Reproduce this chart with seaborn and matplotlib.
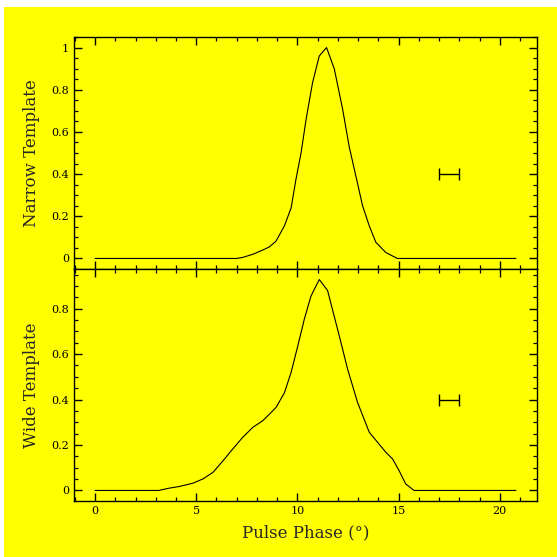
import matplotlib
matplotlib.use("Agg")
import matplotlib.pyplot as plt
from matplotlib.patches import Rectangle
from matplotlib.ticker import MultipleLocator
import seaborn as sns
import pandas as pd

# pulse phase (deg) and template amplitudes
narrow_phase = [0, 7.0, 7.3, 7.8, 8.29, 8.62, 8.95, 9.36, 9.69, 9.93, 10.18, 10.43,
                10.75, 11.08, 11.44, 11.82, 12.23, 12.56, 12.89, 13.22, 13.55, 13.88,
                14.37, 14.94, 20.8]
narrow_amp = [0, 0, 0.005, 0.02, 0.04, 0.055, 0.083, 0.155, 0.24, 0.376, 0.50, 0.66,
              0.834, 0.96, 1.0, 0.90, 0.71, 0.53, 0.39, 0.25, 0.155, 0.076,
              0.028, 0.0, 0]

wide_phase = [0, 3.15, 3.6, 4.19, 4.84, 5.34, 5.83, 6.32, 6.81, 7.3, 7.8, 8.29, 8.62,
              8.95, 9.36, 9.69, 10.02, 10.34, 10.67, 11.0, 11.08, 11.49, 12.07, 12.48,
              12.97, 13.55, 13.96, 14.37, 14.7, 15.02, 15.35, 15.76, 20.8]
wide_amp = [0, 0, 0.009, 0.018, 0.032, 0.051, 0.08, 0.13, 0.183, 0.234, 0.278, 0.307,
            0.336, 0.366, 0.43, 0.52, 0.636, 0.753, 0.855, 0.914, 0.928, 0.88, 0.68,
            0.534, 0.388, 0.256, 0.212, 0.168, 0.139, 0.088, 0.029, 0.0, 0]

# resolution marker
err_x = [17.5]
err_y = [0.4]
err_half = [0.5]

panels = [
    ("Narrow Template", narrow_phase, narrow_amp, [0, 0.2, 0.4, 0.6, 0.8, 1]),
    ("Wide Template", wide_phase, wide_amp, [0, 0.2, 0.4, 0.6, 0.8]),
]

sns.set_style("ticks")
plt.rcParams["font.family"] = ["DejaVu Serif"]
plt.rcParams["axes.linewidth"] = 1.0

yellow = "#ffff00"
fig = plt.figure(figsize=(5.57, 5.57), dpi=100, facecolor="white")
fig.patches.append(Rectangle((4 / 557, 0), 553 / 557, 550 / 557,
                             transform=fig.transFigure, facecolor=yellow,
                             edgecolor="none", zorder=-10))

left, width = 74 / 557, 463 / 557
height = 232 / 557
bottoms = [1 - 269 / 557, 1 - 501 / 557]

for i, (label, xs, ys, yticks) in enumerate(panels):
    ax = fig.add_axes([left, bottoms[i], width, height])
    ax.set_facecolor(yellow)
    df = pd.DataFrame({"phase": xs, "amp": ys})
    sns.lineplot(data=df, x="phase", y="amp", ax=ax, color="black",
                 linewidth=0.8, sort=False)
    ax.errorbar(err_x, err_y, xerr=err_half, fmt="none", ecolor="black",
                elinewidth=1.0, capsize=4, capthick=1.0)
    ymax = max(ys)
    pad = 0.05 * ymax
    ax.set_xlim(-1.04, 21.84)
    ax.set_ylim(-pad, ymax + pad)
    ax.xaxis.set_major_locator(MultipleLocator(5))
    ax.xaxis.set_minor_locator(MultipleLocator(1))
    ax.set_yticks(yticks)
    ax.set_yticklabels([f"{t:g}" for t in yticks])
    ax.yaxis.set_minor_locator(MultipleLocator(0.05))
    ax.tick_params(which="both", direction="in", top=True, right=True,
                   colors="black", labelsize=8)
    ax.tick_params(which="major", length=6, width=1.0)
    ax.tick_params(which="minor", length=3, width=0.9)
    ax.set_ylabel(label, fontsize=12, labelpad=8)
    if i == 0:
        ax.set_xlabel("")
        ax.tick_params(labelbottom=False)
    else:
        ax.set_xlabel("Pulse Phase (°)", fontsize=12, labelpad=6)
    for s in ax.spines.values():
        s.set_color("black")

fig.savefig("out.png", dpi=100, facecolor=fig.get_facecolor())
